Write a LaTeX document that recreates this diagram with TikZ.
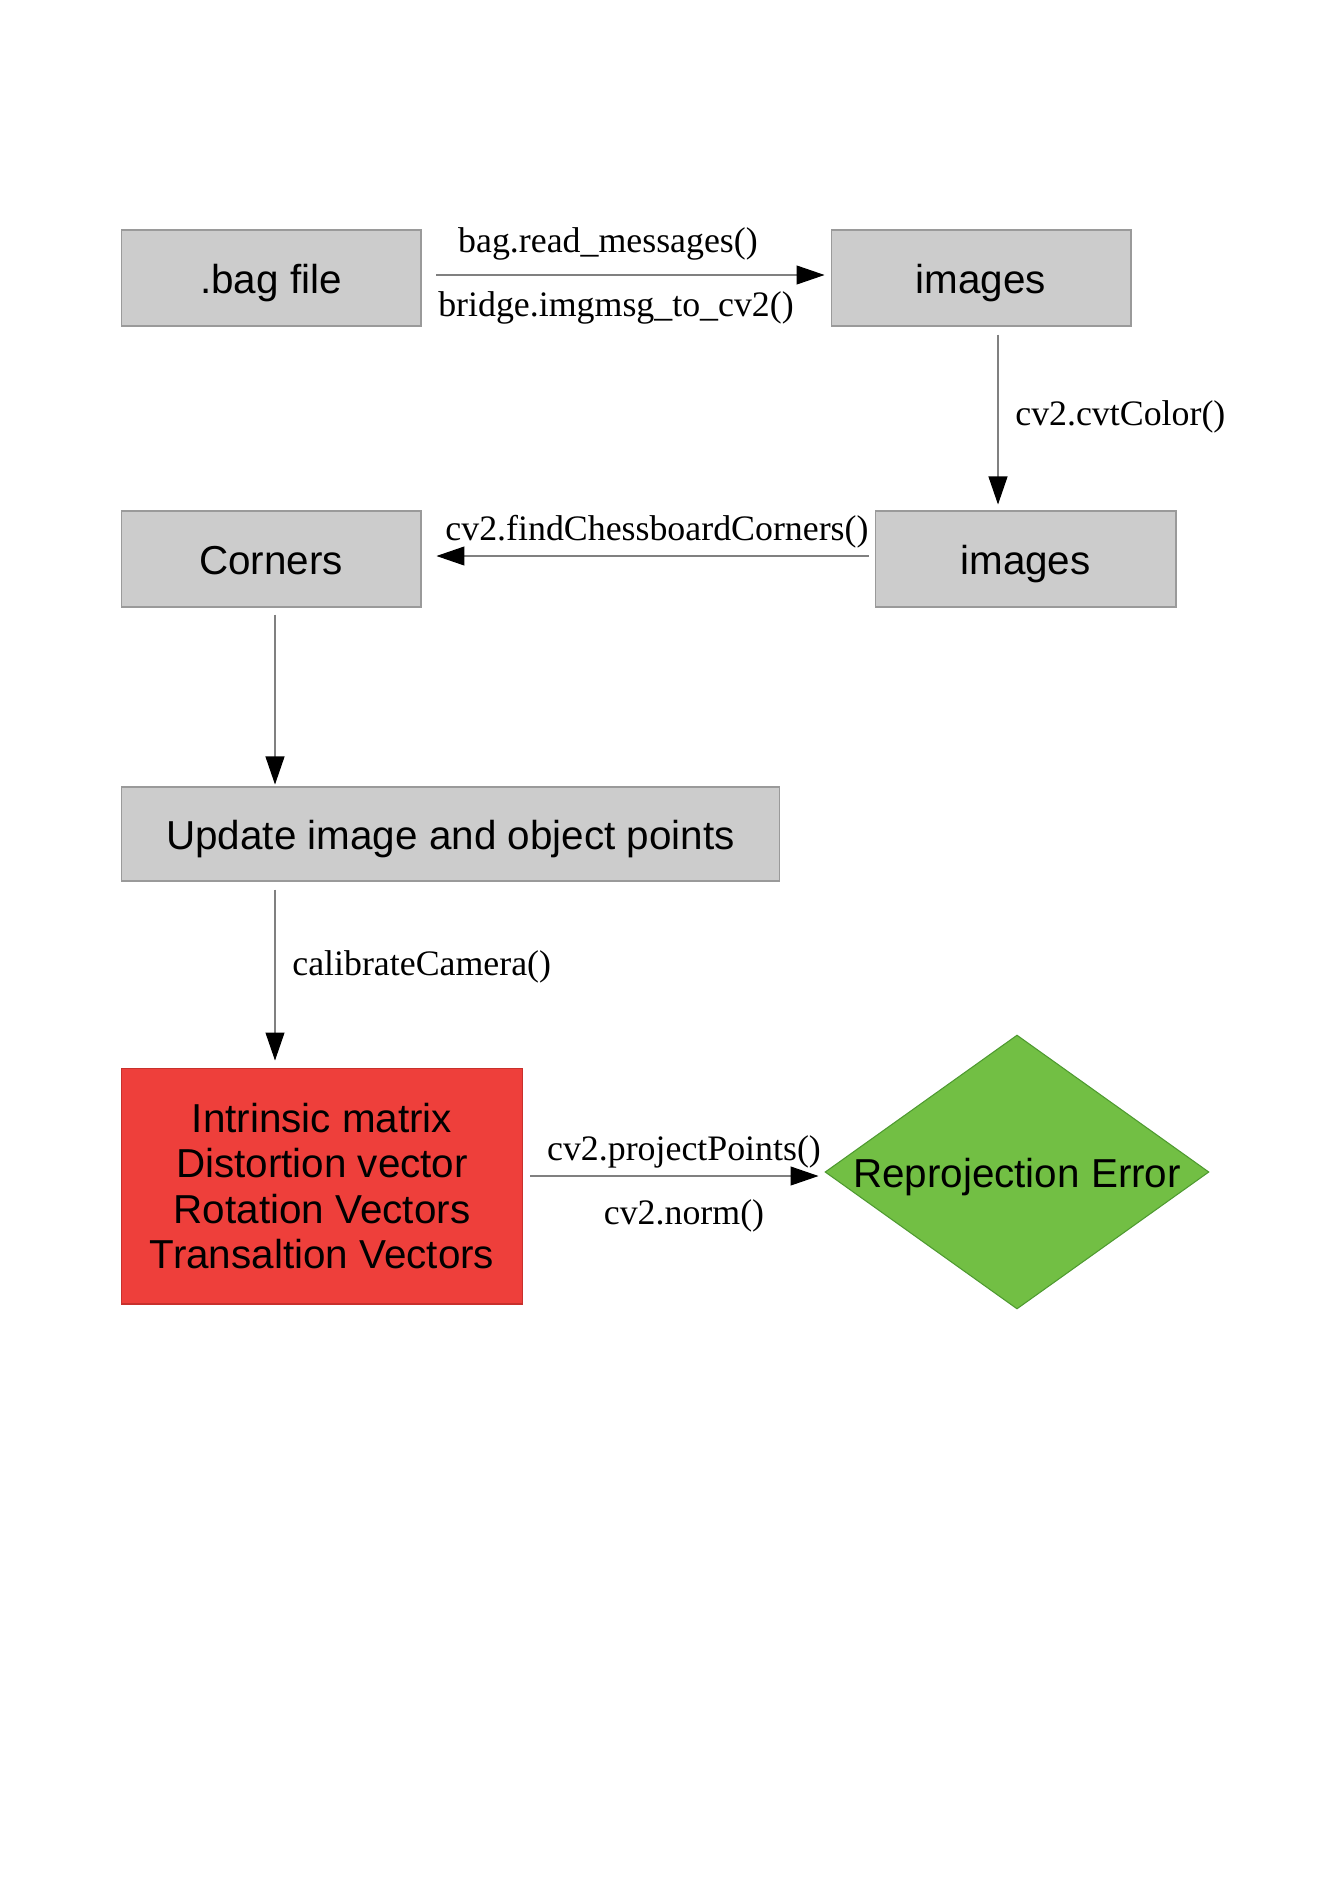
\documentclass[tikz,border=0pt]{standalone}
\usepackage{fontspec}
\setmainfont{Liberation Serif}
\setsansfont{Liberation Sans}
\usetikzlibrary{arrows.meta,shapes.geometric,calc}
\definecolor{boxgray}{HTML}{CCCCCC}
\definecolor{boxline}{HTML}{9A9A9A}
\definecolor{flowline}{HTML}{808080}
\definecolor{resultred}{HTML}{EE3F3B}
\definecolor{resultline}{HTML}{C8302C}
\definecolor{errgreen}{HTML}{72BF44}
\definecolor{errline}{HTML}{4E9A30}
\tikzset{
	stage/.style={draw=boxline, fill=boxgray, line width=0.6pt, inner sep=0pt,
		minimum width=6cm, minimum height=1.92cm, text height=21.9pt, text depth=4.8pt,
		font=\sffamily\fontsize{23}{27.6}\selectfont},
	result/.style={draw=resultline, fill=resultred, line width=0.6pt, inner sep=0pt,
		align=center, font=\sffamily\fontsize{23}{25.9}\selectfont},
	error/.style={diamond, draw=errline, fill=errgreen, line width=0.6pt, inner sep=0pt,
		minimum width=7.68cm, minimum height=5.48cm, text height=21.9pt, text depth=4.8pt,
		font=\sffamily\fontsize{23}{27.6}\selectfont},
	flow/.style={draw=flowline, line width=0.6pt,
		-{Triangle[length=0.56cm,width=0.38cm,color=black]}},
	fname/.style={inner sep=0pt, font=\fontsize{20.4}{24}\selectfont}
}
\begin{document}
\begin{tikzpicture}[x=0.02cm,y=-0.02cm]
	\useasboundingbox (0,0) rectangle (1344,1900);
	% boxes
	\node[stage] (bag) at (271,278) {.bag file};
	\node[stage] (raw) at (981,278) {images};
	\node[stage, minimum width=6.02cm] (gray) at (1025.5,559) {images};
	\node[stage] (corners) at (271,559) {Corners};
	\node[stage, minimum width=13.18cm, minimum height=1.88cm] (points) at (450.5,834)
		{Update image and object points};
	\node[result, minimum width=8.04cm, minimum height=4.72cm] (params) at (322,1186)
		{Intrinsic matrix\\Distortion vector\\Rotation Vectors\\Transaltion Vectors};
	\node[error] (reproj) at (1017,1172) {\makebox[0pt]{Reprojection Error}};

	% connectors
	\draw[flow, shorten <=0.3cm, shorten >=0.12cm]
		($(bag.east)+(0,-3)$) -- ($(raw.west)+(0,-3)$);
	\draw[flow, shorten <=0.16cm, shorten >=0.12cm]
		($(raw.south)+(17,0)$) -- ($(raw.south |- gray.north)+(17,0)$);
	\draw[flow, shorten <=0.12cm, shorten >=0.3cm]
		($(gray.west)+(0,-3)$) -- ($(corners.east)+(0,-3)$);
	\draw[flow, shorten <=0.14cm, shorten >=0.04cm]
		($(corners.south)+(4,0)$) -- ($(corners.south |- points.north)+(4,0)$);
	\draw[flow, shorten <=0.16cm, shorten >=0.14cm]
		($(corners.south |- points.south)+(4,0)$) -- ($(corners.south |- params.north)+(4,0)$);
	\draw[flow, shorten <=0.14cm, shorten >=0.12cm]
		($(params.east)+(0,-10)$) -- ($(params.east -| reproj.west)+(0,-10)$);

	% function names
	\node[fname] (readlbl) at (608,244) {bag.read\_messages()};
	\node[fname] (bridgelbl) at (616,308) {bridge.imgmsg\_to\_cv2()};
	\node[fname, anchor=west] (cvtlbl) at (1015,417) {cv2.cvtColor()};
	\node[fname] (findlbl) at (657,532) {cv2.findChessboardCorners()};
	\node[fname, anchor=west] (calilbl) at (292,967) {calibrateCamera()};
	\node[fname] (projlbl) at (684,1152) {cv2.projectPoints()};
	\node[fname] (normlbl) at (684,1216) {cv2.norm()};
\end{tikzpicture}
\end{document}
